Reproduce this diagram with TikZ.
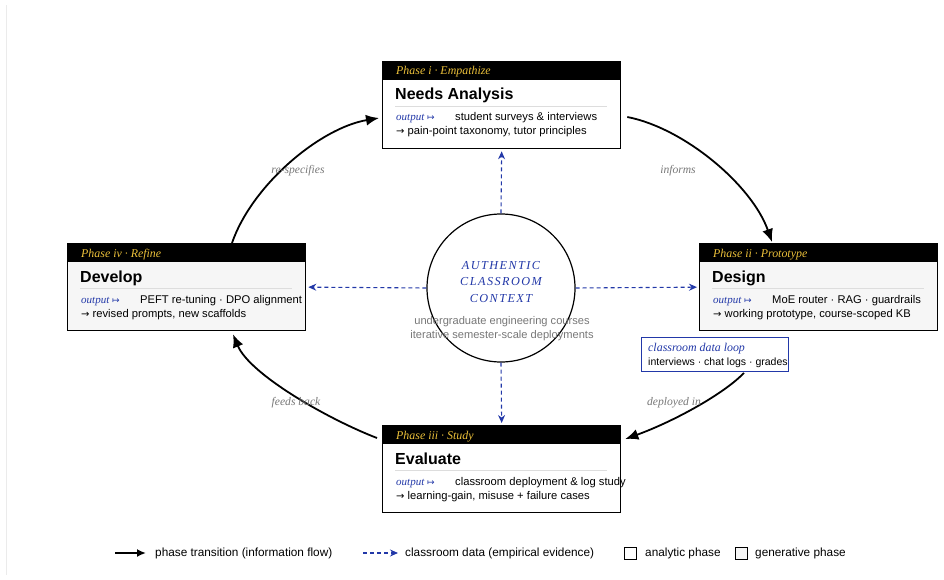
\documentclass[tikz,border=0pt]{standalone}
\usepackage{fontspec}
\setmainfont{Liberation Serif}
\setsansfont{Liberation Sans}
\newfontfamily\symf{DejaVu Sans}
\newfontfamily\ctxfont[LetterSpace=12]{Liberation Serif}
\usetikzlibrary{arrows.meta,calc}
\definecolor{gold}{HTML}{EBC03A}
\definecolor{dblue}{HTML}{2238A8}
\definecolor{lgray}{HTML}{F6F6F6}
\definecolor{tgray}{HTML}{777777}
\definecolor{sepgray}{HTML}{DDDDDD}
\tikzset{
  pbox/.style={draw=black,line width=1.3pt,rectangle,minimum width=238pt,minimum height=87pt,anchor=north west,inner sep=0pt},
  phead/.style={fill=black,draw=black,line width=1.3pt,rectangle,minimum width=238pt,minimum height=18pt,anchor=north west,inner sep=0pt},
  txt/.style={inner sep=0pt,anchor=base west},
  hdtxt/.style={txt,text=gold,font=\fontsize{11.9}{14}\selectfont\itshape},
  ttl/.style={txt,font=\fontsize{16}{19}\selectfont\sffamily\bfseries},
  outl/.style={txt,text=dblue,font=\fontsize{11}{13}\selectfont\itshape},
  body/.style={txt,font=\fontsize{11.2}{13}\selectfont\sffamily},
  elab/.style={inner sep=0pt,text=tgray,font=\fontsize{11.6}{13}\selectfont\itshape},
  legt/.style={inner sep=0pt,anchor=west,font=\fontsize{11.8}{14}\selectfont\sffamily},
  flow/.style={line width=1.8pt,-{Latex[length=13pt,width=11pt]}},
  darr/.style={dblue,line width=1.1pt,dash pattern=on 4pt off 3pt,-{Stealth[length=8pt,width=7pt]}},
}
\newcommand\phasebox[8]{%
  \node[pbox,fill=#4] (#1) at (#2,#3) {};
  \node[phead] (#1-h) at (#1.north west) {};
  \node[hdtxt] (#1-ht) at ($(#1.north west)+(14,14)$) {#5};
  \node[ttl] (#1-t) at ($(#1.north west)+(13,39)$) {#6};
  \draw[sepgray,line width=0.7pt] ($(#1.north west)+(13,45)$) -- ($(#1.north west)+(225,45)$);
  \node[outl] (#1-o) at ($(#1.north west)+(14,60)$) {output {\symf\fontsize{9}{10}\selectfont ↦}};
  \node[body] (#1-b) at ($(#1.north west)+(73,60)$) {#7};
  \node[body] (#1-a) at ($(#1.north west)+(14,74)$) {{\symf\fontsize{10}{12}\selectfont →} #8};
}
\begin{document}
\begin{tikzpicture}[x=1pt,y=-1pt]
\useasboundingbox (0,0) rectangle (944,580);
\draw[black!8,line width=1pt] (6,5) -- (6,575);

\phasebox{na}{382}{61}{white}{Phase i · Empathize}{Needs Analysis}{student surveys \& interviews}{pain-point taxonomy, tutor principles}
\phasebox{des}{699}{243}{lgray}{Phase ii · Prototype}{Design}{MoE router · RAG · guardrails}{working prototype, course-scoped KB}
\phasebox{ev}{382}{425}{white}{Phase iii · Study}{Evaluate}{classroom deployment \& log study}{learning-gain, misuse + failure cases}
\phasebox{dev}{67}{243}{lgray}{Phase iv · Refine}{Develop}{PEFT re-tuning · DPO alignment}{revised prompts, new scaffolds}

% central context
\node[circle,draw=black,line width=1.2pt,fill=white,minimum size=148pt,inner sep=0pt] (ctx) at (501,288) {};
\node[inner sep=0pt,text=dblue,align=center,font=\fontsize{12.2}{16.5}\selectfont\ctxfont\itshape] (ctxt) at (501,282) {AUTHENTIC\\CLASSROOM\\CONTEXT};
\node[inner sep=0pt,text=tgray,align=center,font=\fontsize{11.1}{14}\selectfont\sffamily] (ctxs) at (502,329) {undergraduate engineering courses\\iterative semester-scale deployments};

% dashed evidence arrows
\draw[darr] (ctx.north) -- ([yshift=-2pt]na.south);
\draw[darr] (ctx.west) -- ([xshift=2pt]dev.east);
\draw[darr] (ctx.east) -- ([xshift=-2pt]des.west);
\draw[darr] (ctx.south) -- ([yshift=2pt]ev.north);

% classroom data loop
\node[draw=dblue,line width=0.9pt,fill=white,rectangle,anchor=north west,minimum width=147pt,minimum height=34pt,inner sep=0pt] (loop) at (641,337) {};
\node[txt,text=dblue,font=\fontsize{11.9}{14}\selectfont\itshape] (loop-t) at ($(loop.north west)+(7,14)$) {classroom data loop};
\node[txt,font=\fontsize{10.5}{12}\selectfont\sffamily] (loop-b) at ($(loop.north west)+(7,28)$) {interviews · chat logs · grades};

% phase transitions
\draw[flow] ($(dev.north west)+(165,0)$) .. controls (252,185) and (320,128) .. ($(na.north west)+(-3,57)$);
\draw[flow] ($(na.north east)+(6,56)$) .. controls (684,128) and (752,185) .. ($(des.north west)+(73,-1)$);
\draw[flow] ($(loop.south east)+(-45,1)$) .. controls (725,393) and (675,421) .. ($(ev.north east)+(4,14)$);
\draw[flow] ($(ev.north west)+(-5,13)$) .. controls (330,420) and (250,375) .. ($(dev.south west)+(166,3)$);

\node[elab] (l1) at (298,171) {re-specifies};
\node[elab] (l2) at (678,171) {informs};
\node[elab] (l3) at (674,403) {deployed in};
\node[elab] (l4) at (296,403) {feeds back};

% legend
\coordinate (k1a) at (115,553); \coordinate (k1b) at (146,553);
\draw[line width=1.8pt,-{Latex[length=9pt,width=8pt]}] (k1a) -- (k1b);
\node[legt] (k1t) at (155,553) {phase transition (information flow)};
\coordinate (k2a) at (363,553); \coordinate (k2b) at (398,553);
\draw[darr] (k2a) -- (k2b);
\node[legt] (k2t) at (405,553) {classroom data (empirical evidence)};
\node[draw=black,line width=1pt,fill=white,minimum size=12pt,inner sep=0pt] (k3) at (630,553) {};
\node[legt] (k3t) at (645,553) {analytic phase};
\node[draw=black,line width=1pt,fill=lgray,minimum size=12pt,inner sep=0pt] (k4) at (741,553) {};
\node[legt] (k4t) at (755,553) {generative phase};
\end{tikzpicture}
\end{document}
